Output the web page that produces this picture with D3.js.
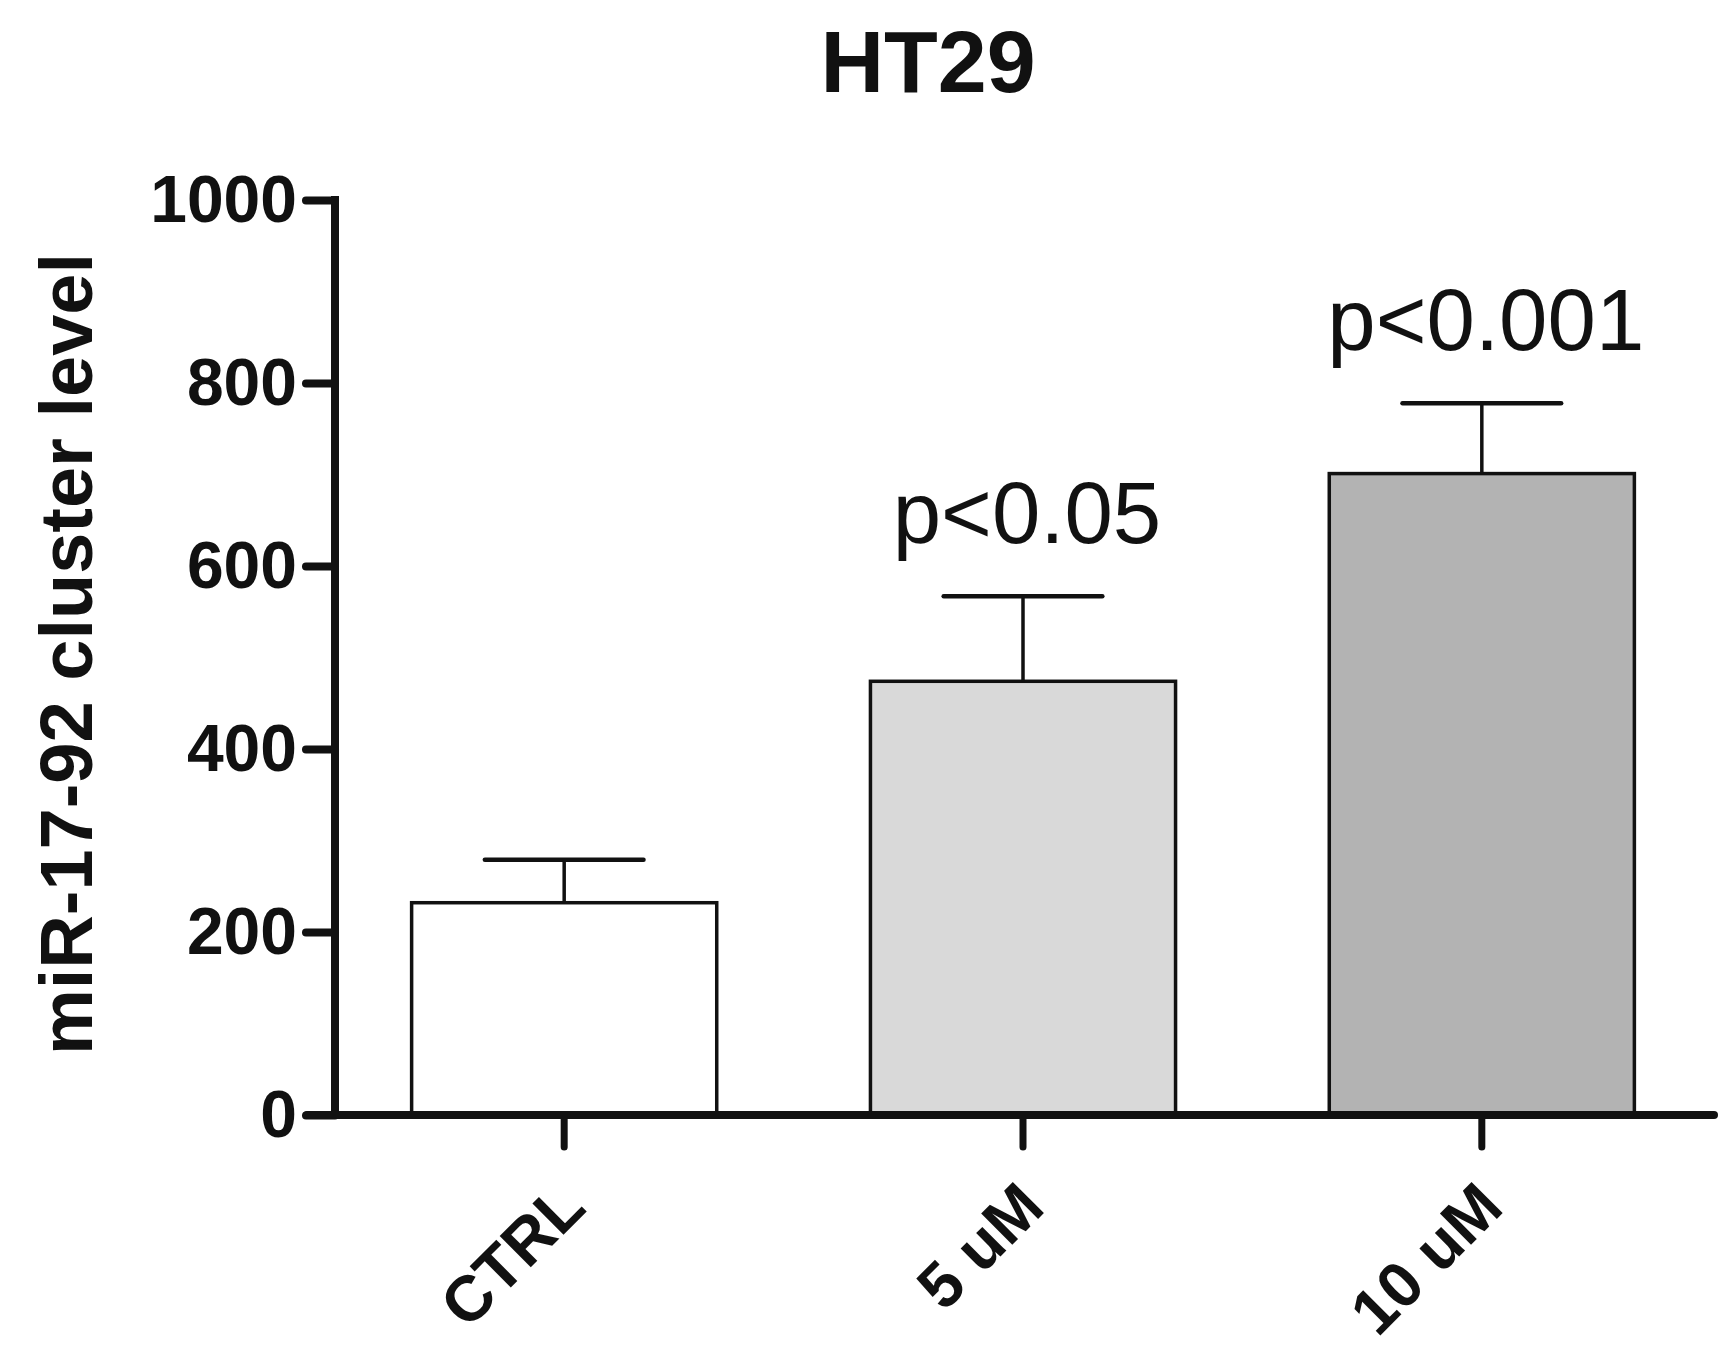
<!DOCTYPE html>
<html>
<head>
<meta charset="utf-8">
<script src="https://cdn.jsdelivr.net/npm/d3@7"></script>
<style>
  body { margin: 0; background: #fff; }
  svg { display: block; font-family: "Liberation Sans", Arial, sans-serif; }
</style>
</head>
<body>
<svg id="chart" width="1736" height="1359"></svg>
<script>
"use strict";

// data
const groups = ["CTRL", "5 uM", "10 uM"];
const means = [232, 474, 701];
const sems = [47, 93, 77];
const pLabels = ["", "p<0.05", "p<0.001"];
const fills = ["#ffffff", "#d9d9d9", "#b3b3b3"];
const yTicks = [0, 200, 400, 600, 800, 1000];

const axisLeftX = 335;
const axisRightX = 1711;
const zeroY = 1115;
const topY = 200;

const svg = d3.select("svg#chart");

const xScale = d3.scaleBand()
    .domain(groups)
    .range([axisLeftX, axisRightX])
    .paddingInner(0.335)
    .paddingOuter(0.167);

const yScale = d3.scaleLinear()
    .domain([0, 1000])
    .range([zeroY, topY]);

const rows = groups.map((g, i) => ({
    group: g, mean: means[i], sem: sems[i], p: pLabels[i], fill: fills[i]
}));

// bars
svg.append("g").selectAll("rect")
    .data(rows)
    .join("rect")
    .attr("x", d => xScale(d.group))
    .attr("y", d => yScale(d.mean))
    .attr("width", xScale.bandwidth())
    .attr("height", d => yScale(0) - yScale(d.mean))
    .attr("fill", d => d.fill)
    .attr("stroke", "#111")
    .attr("stroke-width", 3.5);

// error bars (upper only)
const cx = d => xScale(d.group) + xScale.bandwidth() / 2;
const capHalf = xScale.bandwidth() * 0.26;
const err = svg.append("g").attr("stroke", "#111");
err.selectAll("line.stem")
    .data(rows)
    .join("line")
    .attr("class", "stem")
    .attr("x1", cx).attr("x2", cx)
    .attr("y1", d => yScale(d.mean))
    .attr("y2", d => yScale(d.mean + d.sem))
    .attr("stroke-width", 3.5);
err.selectAll("line.cap")
    .data(rows)
    .join("line")
    .attr("class", "cap")
    .attr("x1", d => cx(d) - capHalf)
    .attr("x2", d => cx(d) + capHalf)
    .attr("y1", d => yScale(d.mean + d.sem))
    .attr("y2", d => yScale(d.mean + d.sem))
    .attr("stroke-width", 4.5)
    .attr("stroke-linecap", "round");

// p-value labels
svg.append("g").selectAll("text")
    .data(rows.filter(d => d.p))
    .join("text")
    .attr("x", d => cx(d) + 4)
    .attr("y", d => yScale(d.mean + d.sem) - 53)
    .attr("text-anchor", "middle")
    .attr("font-size", 87)
    .attr("fill", "#111")
    .text(d => d.p);

// y axis
const yAxis = svg.append("g")
    .attr("transform", `translate(${axisLeftX},0)`)
    .call(d3.axisLeft(yScale).tickValues(yTicks).tickFormat(d3.format("d"))
        .tickSize(29).tickPadding(9).tickSizeOuter(0));
yAxis.select(".domain").remove();
yAxis.selectAll(".tick line").attr("stroke", "#111").attr("stroke-width", 8).attr("stroke-linecap", "round");
yAxis.selectAll(".tick text")
    .attr("font-size", 66)
    .attr("font-weight", "bold")
    .attr("fill", "#111")
    .attr("font-family", "Liberation Sans, Arial, sans-serif");
svg.append("line")
    .attr("x1", axisLeftX).attr("x2", axisLeftX)
    .attr("y1", yScale(1000) - 4).attr("y2", zeroY)
    .attr("stroke", "#111").attr("stroke-width", 8);

// x axis
const xAxis = svg.append("g")
    .attr("transform", `translate(0,${zeroY})`)
    .call(d3.axisBottom(xScale).tickSize(32).tickSizeOuter(0));
xAxis.select(".domain").remove();
xAxis.selectAll(".tick line").attr("stroke", "#111").attr("stroke-width", 7).attr("stroke-linecap", "round");
xAxis.selectAll(".tick text").remove();
svg.append("line")
    .attr("x1", axisLeftX - 28).attr("x2", axisRightX + 3)
    .attr("y1", zeroY).attr("y2", zeroY)
    .attr("stroke", "#111").attr("stroke-width", 8).attr("stroke-linecap", "round");

// rotated category labels
svg.append("g").selectAll("text")
    .data(groups)
    .join("text")
    .attr("transform", g => `translate(${xScale(g) + xScale.bandwidth() / 2 + 24},1210) rotate(-45)`)
    .attr("text-anchor", "end")
    .attr("font-size", 64)
    .attr("font-weight", "bold")
    .attr("fill", "#111")
    .text(g => g);

// title
svg.append("text")
    .attr("x", 928)
    .attr("y", 92)
    .attr("text-anchor", "middle")
    .attr("font-size", 88)
    .attr("font-weight", "bold")
    .attr("fill", "#111")
    .text("HT29");

// y axis title
svg.append("text")
    .attr("transform", "translate(92,654) rotate(-90)")
    .attr("text-anchor", "middle")
    .attr("font-size", 74)
    .attr("font-weight", "bold")
    .attr("fill", "#111")
    .text("miR-17-92 cluster level");
</script>
</body>
</html>
